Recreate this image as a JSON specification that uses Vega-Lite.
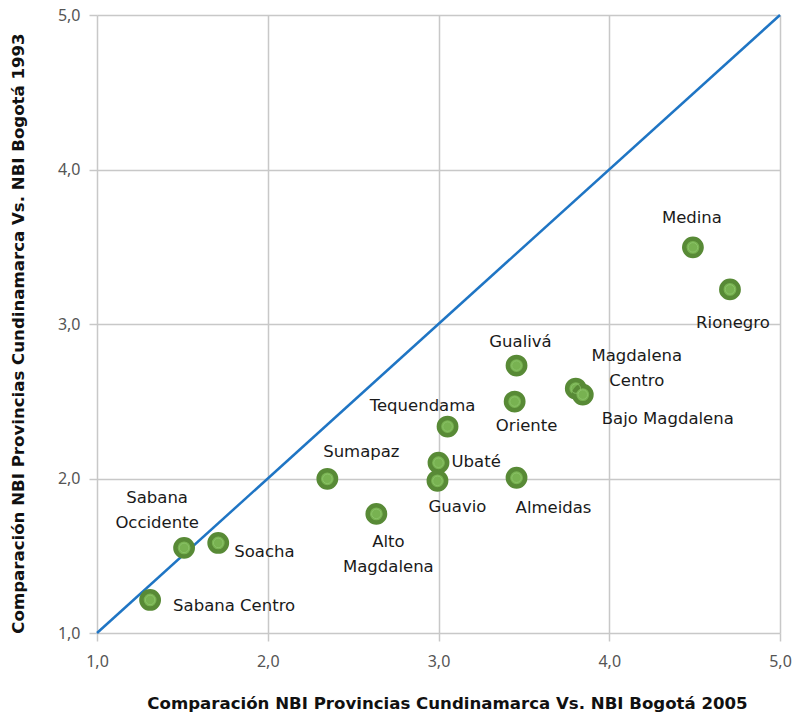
{
  "$schema": "https://vega.github.io/schema/vega-lite/v6.json",
  "width": 683,
  "height": 618,
  "autosize": {"type": "none"},
  "padding": {"left": 97, "top": 15, "right": 14, "bottom": 82},
  "background": "white",
  "config": {
    "view": {"stroke": null},
    "font": "DejaVu Sans",
    "text": {"font": "DejaVu Sans", "fontSize": 16.5, "color": "#1a1a1a"}
  },
  "datasets": {
    "prov": [
      {"prov": "Sabana Centro", "nbi2005": 1.311, "nbi1993": 1.214},
      {"prov": "Sabana Occidente", "nbi2005": 1.51, "nbi1993": 1.551},
      {"prov": "Soacha", "nbi2005": 1.71, "nbi1993": 1.583},
      {"prov": "Sumapaz", "nbi2005": 2.349, "nbi1993": 1.998},
      {"prov": "Alto Magdalena", "nbi2005": 2.636, "nbi1993": 1.771},
      {"prov": "Tequendama", "nbi2005": 3.053, "nbi1993": 2.336},
      {"prov": "Ubaté", "nbi2005": 3.0, "nbi1993": 2.102},
      {"prov": "Guavio", "nbi2005": 2.994, "nbi1993": 1.985},
      {"prov": "Almeidas", "nbi2005": 3.457, "nbi1993": 2.005},
      {"prov": "Oriente", "nbi2005": 3.446, "nbi1993": 2.498},
      {"prov": "Gualivá", "nbi2005": 3.457, "nbi1993": 2.731},
      {"prov": "Magdalena Centro", "nbi2005": 3.804, "nbi1993": 2.582},
      {"prov": "Bajo Magdalena", "nbi2005": 3.845, "nbi1993": 2.543},
      {"prov": "Medina", "nbi2005": 4.49, "nbi1993": 3.496},
      {"prov": "Rionegro", "nbi2005": 4.707, "nbi1993": 3.224}
    ]
  },
  "data": {"name": "prov"},
  "encoding": {
    "x": {
      "field": "nbi2005", "type": "quantitative",
      "scale": {"domain": [1, 5], "nice": false, "zero": false},
      "axis": {
        "title": "Comparación NBI Provincias Cundinamarca Vs. NBI Bogotá 2005",
        "values": [1, 2, 3, 4, 5],
        "labelExpr": "replace(format(datum.value, '.1f'), '.', ',')",
        "labelFlush": false,
        "grid": true, "gridColor": "#c8c8c8", "gridWidth": 1.5,
        "domain": false,
        "ticks": true, "tickSize": 8, "tickColor": "#c8c8c8", "tickWidth": 1.5,
        "labelFont": "Noto Sans", "labelFontSize": 16, "labelColor": "#555555", "labelPadding": 12,
        "titleFont": "DejaVu Sans", "titleFontSize": 16.6, "titleFontWeight": "bold", "titleColor": "#111111",
        "titleX": 350, "titleY": 70, "titleBaseline": "middle", "titleAlign": "center"
      }
    },
    "y": {
      "field": "nbi1993", "type": "quantitative",
      "scale": {"domain": [1, 5], "nice": false, "zero": false},
      "axis": {
        "title": "Comparación NBI Provincias Cundinamarca Vs. NBI Bogotá 1993",
        "values": [1, 2, 3, 4, 5],
        "labelExpr": "replace(format(datum.value, '.1f'), '.', ',')",
        "labelFlush": false,
        "grid": true, "gridColor": "#c8c8c8", "gridWidth": 1.5,
        "domain": false,
        "ticks": true, "tickSize": 8, "tickColor": "#c8c8c8", "tickWidth": 1.5,
        "labelFont": "Noto Sans", "labelFontSize": 16, "labelColor": "#555555", "labelPadding": 9,
        "titleFont": "DejaVu Sans", "titleFontSize": 16.6, "titleFontWeight": "bold", "titleColor": "#111111",
        "titleX": -79, "titleY": 318, "titleAngle": -90, "titleBaseline": "middle", "titleAlign": "center"
      }
    }
  },
  "layer": [
    {
      "data": {"values": [{"a": 1, "b": 1, "a2": 5, "b2": 5}]},
      "mark": {"type": "rule", "color": "#1f75c4", "strokeWidth": 2.5},
      "encoding": {
        "x": {"field": "a", "type": "quantitative"},
        "y": {"field": "b", "type": "quantitative"},
        "x2": {"field": "a2"},
        "y2": {"field": "b2"}
      }
    },
    {
      "mark": {"type": "point", "shape": "circle", "filled": true, "size": 300, "fill": "#78b251", "stroke": "#588a36", "strokeWidth": 4.5, "opacity": 1}
    },
    {
      "mark": {"type": "point", "shape": "circle", "filled": false, "size": 90, "stroke": "#8fc76d", "strokeWidth": 1, "opacity": 0.8}
    },
    {
      "transform": [{"filter": "datum.prov == 'Sabana Centro'"}],
      "mark": {"type": "text", "align": "left", "baseline": "middle", "dx": 23, "dy": 6},
      "encoding": {"text": {"field": "prov"}}
    },
    {
      "transform": [{"filter": "datum.prov == 'Sabana Occidente'"}],
      "mark": {"type": "text", "align": "center", "baseline": "middle", "dx": -27, "dy": -50, "lineBreak": " ", "lineHeight": 25},
      "encoding": {"text": {"field": "prov"}}
    },
    {
      "transform": [{"filter": "datum.prov == 'Soacha'"}],
      "mark": {"type": "text", "align": "left", "baseline": "middle", "dx": 16, "dy": 9},
      "encoding": {"text": {"field": "prov"}}
    },
    {
      "transform": [{"filter": "datum.prov == 'Sumapaz'"}],
      "mark": {"type": "text", "align": "center", "baseline": "middle", "dx": 34, "dy": -27},
      "encoding": {"text": {"field": "prov"}}
    },
    {
      "transform": [{"filter": "datum.prov == 'Alto Magdalena'"}],
      "mark": {"type": "text", "align": "center", "baseline": "middle", "dx": 12, "dy": 28, "lineBreak": " ", "lineHeight": 25},
      "encoding": {"text": {"field": "prov"}}
    },
    {
      "transform": [{"filter": "datum.prov == 'Tequendama'"}],
      "mark": {"type": "text", "align": "center", "baseline": "middle", "dx": -25, "dy": -21},
      "encoding": {"text": {"field": "prov"}}
    },
    {
      "transform": [{"filter": "datum.prov == 'Ubaté'"}],
      "mark": {"type": "text", "align": "left", "baseline": "middle", "dx": 13, "dy": -1},
      "encoding": {"text": {"field": "prov"}}
    },
    {
      "transform": [{"filter": "datum.prov == 'Guavio'"}],
      "mark": {"type": "text", "align": "center", "baseline": "middle", "dx": 20, "dy": 26},
      "encoding": {"text": {"field": "prov"}}
    },
    {
      "transform": [{"filter": "datum.prov == 'Almeidas'"}],
      "mark": {"type": "text", "align": "center", "baseline": "middle", "dx": 37, "dy": 30},
      "encoding": {"text": {"field": "prov"}}
    },
    {
      "transform": [{"filter": "datum.prov == 'Oriente'"}],
      "mark": {"type": "text", "align": "center", "baseline": "middle", "dx": 12, "dy": 24},
      "encoding": {"text": {"field": "prov"}}
    },
    {
      "transform": [{"filter": "datum.prov == 'Gualivá'"}],
      "mark": {"type": "text", "align": "center", "baseline": "middle", "dx": 4, "dy": -24},
      "encoding": {"text": {"field": "prov"}}
    },
    {
      "transform": [{"filter": "datum.prov == 'Magdalena Centro'"}],
      "mark": {"type": "text", "align": "center", "baseline": "middle", "dx": 61, "dy": -33, "lineBreak": " ", "lineHeight": 25},
      "encoding": {"text": {"field": "prov"}}
    },
    {
      "transform": [{"filter": "datum.prov == 'Bajo Magdalena'"}],
      "mark": {"type": "text", "align": "center", "baseline": "middle", "dx": 85, "dy": 24},
      "encoding": {"text": {"field": "prov"}}
    },
    {
      "transform": [{"filter": "datum.prov == 'Medina'"}],
      "mark": {"type": "text", "align": "center", "baseline": "middle", "dx": -1, "dy": -29},
      "encoding": {"text": {"field": "prov"}}
    },
    {
      "transform": [{"filter": "datum.prov == 'Rionegro'"}],
      "mark": {"type": "text", "align": "center", "baseline": "middle", "dx": 3, "dy": 34},
      "encoding": {"text": {"field": "prov"}}
    }
  ]
}
